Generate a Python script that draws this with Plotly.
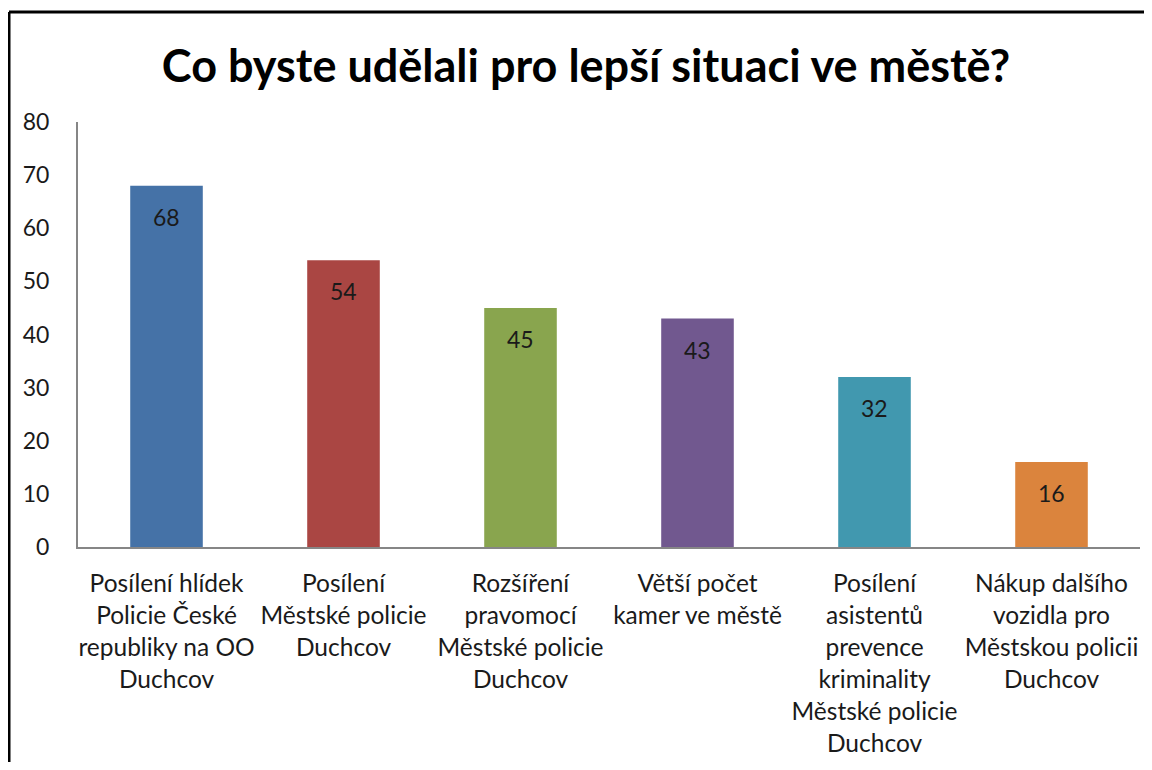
import plotly.graph_objects as go

categories = [
    "Posílení hlídek<br>Policie České<br>republiky na OO<br>Duchcov",
    "Posílení<br>Městské policie<br>Duchcov",
    "Rozšíření<br>pravomocí<br>Městské policie<br>Duchcov",
    "Větší počet<br>kamer ve městě",
    "Posílení<br>asistentů<br>prevence<br>kriminality<br>Městské policie<br>Duchcov",
    "Nákup dalšího<br>vozidla pro<br>Městskou policii<br>Duchcov",
]
values = [68, 54, 45, 43, 32, 16]
colors = ["#4572A7", "#AA4643", "#89A54E", "#71588F", "#4198AF", "#DB843D"]
y_ticks = [0, 10, 20, 30, 40, 50, 60, 70, 80]

FONT = "Lato, Open Sans, sans-serif"
OFF = 8                      # default page body margin
W, H = 1152 - 2 * OFF, 770 - 2 * OFF
# plot area in page pixels: left 78, right 1140, top 122, bottom 547
L = 78 - OFF
R = W - (1140 - OFF)
T = 122 - OFF
B = H - (547 - OFF)
pw, ph = W - L - R, H - T - B

fig = go.Figure(go.Bar(
    x=list(range(len(categories))),
    y=values,
    marker=dict(color=colors, line=dict(width=0)),
    hoverinfo="x+y",
))

for i, v in enumerate(values):
    fig.add_annotation(
        x=i, y=v, xref="x", yref="y", text=str(v), showarrow=False,
        yanchor="middle", yshift=-31,
        font=dict(family=FONT, size=23, color="#1a1a1a"),
    )

def fx(p):   # page px -> paper x
    return (p - OFF - L) / pw

def fy(p):   # page px -> paper y
    return (H - B - (p - OFF)) / ph

fig.update_layout(
    width=W, height=H,
    margin=dict(l=L, r=R, t=T, b=B, pad=0, autoexpand=False),
    paper_bgcolor="white", plot_bgcolor="white",
    bargap=0.59,
    showlegend=False,
    title=dict(
        text="<b>Co byste udělali pro lepší situaci ve městě?</b>",
        x=fx(586), xanchor="center", xref="paper",
        y=1 - (66 - OFF) / H, yanchor="middle",
        font=dict(family=FONT, size=45, color="black"),
    ),
    xaxis=dict(
        tickmode="array",
        tickvals=list(range(len(categories))),
        ticktext=categories,
        range=[-0.5, len(categories) - 0.5],
        showline=True, linecolor="#868686", linewidth=2,
        showgrid=False, ticks="", zeroline=False,
        tickangle=0, automargin=False,
        tickfont=dict(family=FONT, size=24.5, color="#1a1a1a"),
        ticklabelstandoff=14,
    ),
    yaxis=dict(
        range=[0, 80],
        tickmode="array", tickvals=y_ticks,
        showline=True, linecolor="#868686", linewidth=2,
        showgrid=False, ticks="", zeroline=False, automargin=False,
        tickfont=dict(family=FONT, size=23, color="#1a1a1a"),
        ticklabelstandoff=22,
    ),
    shapes=[
        dict(type="line", xref="paper", yref="paper",
             x0=fx(9), x1=fx(1160), y0=fy(12), y1=fy(12),
             line=dict(color="black", width=3)),
        dict(type="line", xref="paper", yref="paper",
             x0=fx(9), x1=fx(9), y0=fy(12), y1=fy(780),
             line=dict(color="black", width=3)),
    ],
)

fig.write_html("out.html")
